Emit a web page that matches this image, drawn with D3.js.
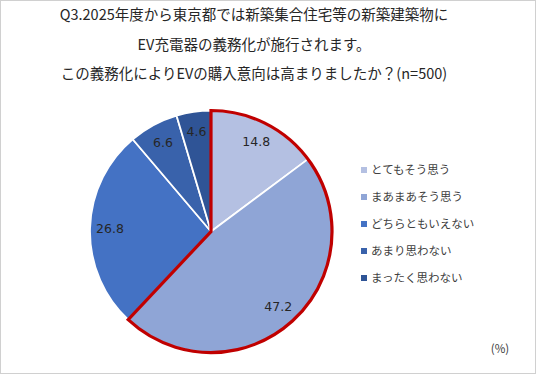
<!DOCTYPE html>
<html><head><meta charset="utf-8">
<script src="https://cdn.jsdelivr.net/npm/d3@7"></script>
<style>body{margin:0;background:#fff}svg{display:block}</style>
</head><body>
<script>
const titleLines = ["Q3.2025年度から東京都では新築集合住宅等の新築建築物に","EV充電器の義務化が施行されます。","この義務化によりEVの購入意向は高まりましたか？(n=500)"];
const categories = ["とてもそう思う","まあまあそう思う","どちらともいえない","あまり思わない","まったく思わない"];
const values = [14.8, 47.2, 26.8, 6.6, 4.6];
const colors = ["#B4C0E2","#8FA5D6","#4472C4","#3962AB","#2F5496"];
const highlighted = [0, 1];
const unitLabel = "(%)";

const W = 536, H = 374;
const svg = d3.select("body").append("svg").attr("width", W).attr("height", H);
svg.append("rect").attr("x",0.5).attr("y",0.5).attr("width",W-1).attr("height",H-1)
  .attr("fill","#fff").attr("stroke","#D0D0D0");

const jp = "'Noto Sans CJK JP','Noto Sans',sans-serif";
svg.selectAll("text.title").data(titleLines).enter().append("text")
  .attr("x", 254).attr("y", (d,i)=>20 + i*29.5)
  .attr("text-anchor","middle").attr("font-family", jp).attr("font-size", 14.5)
  .attr("fill","#262626").text(d=>d);

const cx = 211, cy = 231.5, R = 121;
const g = svg.append("g").attr("transform", `translate(${cx},${cy})`);
const pie = d3.pie().sort(null).value(d=>d);
const arcs = pie(values);
const arc = d3.arc().innerRadius(0).outerRadius(R);
g.selectAll("path.slice").data(arcs).enter().append("path")
  .attr("d", arc).attr("fill",(d,i)=>colors[i])
  .attr("stroke","#fff").attr("stroke-width",1.8).attr("stroke-linejoin","round");

// highlight outline around selected slices
const hStart = arcs[highlighted[0]].startAngle, hEnd = arcs[highlighted[highlighted.length-1]].endAngle;
g.append("path").attr("d", d3.arc().innerRadius(0).outerRadius(R)({startAngle:hStart,endAngle:hEnd}))
  .attr("fill","none").attr("stroke","#C00000").attr("stroke-width",3.2).attr("stroke-linejoin","miter");

const labelArc = d3.arc().innerRadius(101*2 - 0).outerRadius(0);
g.selectAll("text.lbl").data(arcs).enter().append("text")
  .attr("transform", d => {
    const a = (d.startAngle + d.endAngle)/2;
    const r = 101;
    return `translate(${r*Math.sin(a)},${-r*Math.cos(a)})`;
  })
  .attr("text-anchor","middle").attr("dy","0.36em")
  .attr("font-family","'DejaVu Sans',Verdana,sans-serif").attr("font-size",12.5)
  .attr("fill","#262626").text(d=>d.data.toFixed(1));

const leg = svg.append("g");
const ly = d3.scalePoint().domain(categories).range([170, 278]);
categories.forEach((c,i)=>{
  leg.append("rect").attr("x",361).attr("y",ly(c)-3).attr("width",6).attr("height",6).attr("fill",colors[i]);
  leg.append("text").attr("x",371).attr("y",ly(c)).attr("dy","0.35em")
    .attr("font-family",jp).attr("font-size",11.5).attr("fill","#404040").text(c);
});

svg.append("text").attr("x",500).attr("y",349).attr("dy","0.35em").attr("text-anchor","middle")
  .attr("font-family",jp).attr("font-size",11.5).attr("fill","#404040").text(unitLabel);
</script>
</body></html>
